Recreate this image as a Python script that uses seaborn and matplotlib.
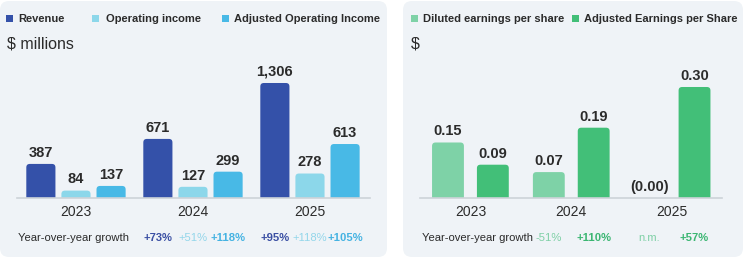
import matplotlib
matplotlib.use("Agg")
import matplotlib.pyplot as plt
import matplotlib.transforms as mtransforms
from matplotlib.patches import FancyBboxPatch, Rectangle
import seaborn as sns
import pandas as pd

# ---------------- data ----------------
years = ["2023", "2024", "2025"]

fin_series = ["Revenue", "Operating income", "Adjusted Operating Income"]
revenue = [387, 671, 1306]
operating_income = [84, 127, 278]
adj_operating_income = [137, 299, 613]
revenue_growth = ["", "+73%", "+95%"]
op_income_growth = ["", "+51%", "+118%"]
adj_op_income_growth = ["", "+118%", "+105%"]

eps_series = ["Diluted earnings per share", "Adjusted Earnings per Share"]
diluted_eps = [0.15, 0.07, -0.001]
adj_eps = [0.09, 0.19, 0.30]
diluted_eps_growth = ["", "-51%", "n.m."]
adj_eps_growth = ["", "+110%", "+57%"]

fin_colors = ["#3451a9", "#8cd7ea", "#48b9e6"]
fin_growth_colors = ["#3a4fa3", "#93d6ea", "#45b3e2"]
fin_growth_weights = ["bold", "normal", "bold"]
eps_colors = ["#7ed2a7", "#42bf78"]
eps_growth_colors = ["#7fd0a6", "#3bb672"]
eps_growth_weights = ["normal", "bold"]

# ---------------- figure ----------------
sns.set_theme(style="white")
plt.rcParams["font.family"] = ["Liberation Sans", "DejaVu Sans"]
W, H = 743, 261
fig = plt.figure(figsize=(W / 100, H / 100), dpi=100)
fig.patch.set_facecolor("white")
px = mtransforms.IdentityTransform()

panel_bg = "#eff3f7"
for x0, x1 in [(0, 387), (403, 743)]:
    fig.add_artist(FancyBboxPatch((x0, 4), x1 - x0, 256,
                                  boxstyle="round,pad=0,rounding_size=9",
                                  transform=px, facecolor=panel_bg,
                                  edgecolor="none", zorder=0))

TXT = "#2b2b2b"
GROWTH_FS = 8.1


def fy(y_from_top):
    return (H - y_from_top) / H


def legend_items(items):
    for (sx, tx, label, color) in items:
        fig.add_artist(Rectangle((sx, H - 22), 7, 7, transform=px,
                                 facecolor=color, edgecolor="none", zorder=2))
        fig.text(tx / W, fy(18.5), label, fontsize=8.0, fontweight="bold",
                 color=TXT, va="center", ha="left")


def round_tops(ax, r_px=3.5):
    p0 = ax.transData.transform((0, 0))
    p1 = ax.transData.transform((1, 1))
    ux = p1[0] - p0[0]
    uy = p1[1] - p0[1]
    rx = r_px / ux
    aspect = (r_px / uy) / rx
    for bar in list(ax.patches):
        x, w, h = bar.get_x(), bar.get_width(), bar.get_height()
        if h <= 0:
            bar.set_visible(False)
            continue
        extra = r_px / uy
        fb = FancyBboxPatch((x, -extra), w, h + extra,
                            boxstyle=f"round,pad=0,rounding_size={rx}",
                            mutation_aspect=aspect,
                            facecolor=bar.get_facecolor(), edgecolor="none",
                            zorder=2, clip_on=True)
        ax.add_patch(fb)
        bar.set_visible(False)


def style_axes(ax):
    sns.despine(ax=ax, left=True, top=True, right=True)
    ax.spines["bottom"].set_color("#cdd3d8")
    ax.spines["bottom"].set_linewidth(1.2)
    ax.set_facecolor("none")
    ax.set_yticks([])
    ax.set_xlabel("")
    ax.set_ylabel("")
    ax.tick_params(axis="x", length=0, pad=5, labelsize=10, labelcolor=TXT)


def draw_panel(ax, series, values, colors, fmt, gap, width, growth,
               growth_colors, growth_weights):
    df = pd.DataFrame({
        "year": [y for s in series for y in years],
        "series": [s for s in series for _ in years],
        "value": [v for vals in values for v in vals],
    })
    sns.barplot(data=df, x="year", y="value", hue="series", order=years,
                hue_order=series, palette=colors, width=width, gap=gap,
                ax=ax, legend=False, saturation=1, errorbar=None)
    style_axes(ax)
    blend = mtransforms.blended_transform_factory(ax.transData, fig.transFigure)
    for cont, vals, g, gc, gw in zip(ax.containers, values, growth,
                                     growth_colors, growth_weights):
        for bar, v, gtxt in zip(cont, vals, g):
            cx = bar.get_x() + bar.get_width() / 2
            ax.annotate(fmt(v), xy=(cx, max(v, 0)), xytext=(0, 3),
                        textcoords="offset points", ha="center", va="bottom",
                        fontsize=10.5, fontweight="bold", color=TXT, zorder=3)
            if gtxt:
                ax.text(cx, fy(238), gtxt, transform=blend, ha="center",
                        va="center", fontsize=GROWTH_FS, fontweight=gw,
                        color=gc, clip_on=False)


# ---- left panel ----
axL = fig.add_axes([17 / W, 63 / H, 353 / W, 160 / H])
draw_panel(axL, fin_series, [revenue, operating_income, adj_operating_income],
           fin_colors, lambda v: f"{v:,.0f}", 0.17, 0.9,
           [revenue_growth, op_income_growth, adj_op_income_growth],
           fin_growth_colors, fin_growth_weights)
axL.set_xlim(-0.504, 2.513)
axL.set_ylim(0, 1817)
round_tops(axL)

# ---- right panel ----
axR = fig.add_axes([420 / W, 63 / H, 302 / W, 160 / H])
draw_panel(axR, eps_series, [diluted_eps, adj_eps], eps_colors,
           lambda v: f"({abs(v):.2f})" if v < 0 else f"{v:.2f}", 0.29, 0.89,
           [diluted_eps_growth, adj_eps_growth],
           eps_growth_colors, eps_growth_weights)
axR.set_xlim(-0.5, 2.495)
axR.set_ylim(0, 0.4324)
round_tops(axR)

# ---- legends & headers ----
legend_items([(6, 18.5, fin_series[0], fin_colors[0]),
              (92, 106, fin_series[1], fin_colors[1]),
              (222, 234.5, fin_series[2], fin_colors[2])])
legend_items([(411, 423, eps_series[0], eps_colors[0]),
              (572, 584.5, eps_series[1], eps_colors[1])])

fig.text(7 / W, fy(44.5), "$ millions", fontsize=11.5, color=TXT,
         ha="left", va="center")
fig.text(411 / W, fy(44.5), "$", fontsize=11.5, color=TXT,
         ha="left", va="center")
fig.text(18 / W, fy(238), "Year-over-year growth", fontsize=GROWTH_FS,
         color=TXT, ha="left", va="center")
fig.text(422 / W, fy(238), "Year-over-year growth", fontsize=GROWTH_FS,
         color=TXT, ha="left", va="center")

fig.savefig("out.png", dpi=100)
